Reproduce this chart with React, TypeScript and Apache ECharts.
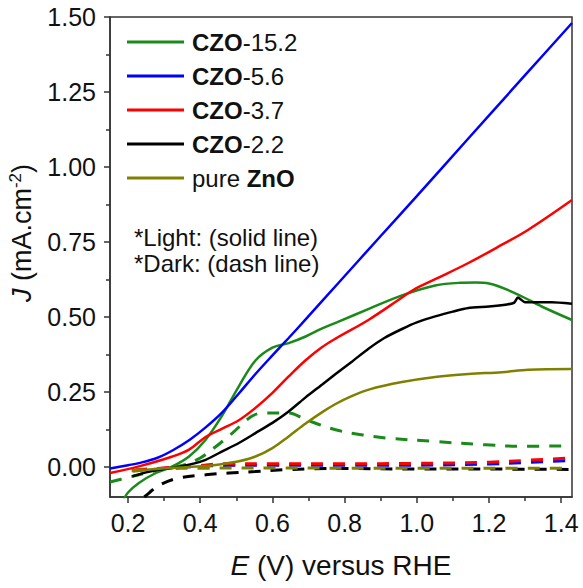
import React, { useEffect, useRef } from "react";
import * as echarts from "echarts";

type P = [number, number];

// Light (solid) curves: [E (V vs RHE), J (mA/cm2)]
const czo152Light: P[] = [[0.185,-0.115],[0.2,-0.085],[0.23,-0.053],[0.277,-0.02],[0.323,0.002],[0.369,0.035],[0.415,0.091],[0.461,0.172],[0.507,0.269],[0.553,0.355],[0.6,0.398],[0.645,0.413],[0.692,0.435],[0.738,0.462],[0.78,0.483],[0.867,0.527],[0.959,0.572],[1.051,0.605],[1.12,0.614],[1.162,0.615],[1.2,0.612],[1.282,0.574],[1.346,0.535],[1.43,0.49]];
const czo56Light: P[] = [[0.15,-0.005],[0.2,0.006],[0.23,0.013],[0.28,0.03],[0.323,0.055],[0.37,0.09],[0.415,0.132],[0.461,0.182],[0.507,0.245],[0.553,0.31],[0.6,0.372],[0.645,0.43],[0.692,0.492],[0.784,0.615],[0.9,0.77],[1.0,0.903],[1.139,1.09],[1.3,1.306],[1.43,1.48]];
const czo37Light: P[] = [[0.15,-0.02],[0.23,0.002],[0.323,0.035],[0.369,0.058],[0.415,0.1],[0.461,0.128],[0.507,0.156],[0.553,0.197],[0.6,0.247],[0.645,0.302],[0.692,0.356],[0.738,0.4],[0.775,0.428],[0.867,0.491],[0.959,0.565],[0.99,0.59],[1.051,0.626],[1.143,0.68],[1.236,0.741],[1.309,0.791],[1.43,0.89]];
const czo22Light: P[] = [[0.212,-0.031],[0.25,-0.018],[0.277,-0.011],[0.323,-0.003],[0.369,0.008],[0.415,0.024],[0.461,0.052],[0.507,0.08],[0.553,0.113],[0.6,0.147],[0.645,0.185],[0.692,0.232],[0.738,0.275],[0.775,0.31],[0.821,0.352],[0.867,0.395],[0.91,0.43],[0.959,0.46],[1.0,0.482],[1.051,0.502],[1.1,0.518],[1.143,0.53],[1.2,0.535],[1.25,0.542],[1.27,0.548],[1.28,0.565],[1.3,0.549],[1.374,0.549],[1.43,0.544]];
const znoLight: P[] = [[0.212,-0.015],[0.26,-0.008],[0.323,-0.003],[0.415,0.003],[0.461,0.01],[0.507,0.019],[0.553,0.035],[0.6,0.063],[0.645,0.102],[0.692,0.145],[0.738,0.183],[0.775,0.21],[0.821,0.237],[0.867,0.258],[0.959,0.283],[1.051,0.3],[1.143,0.31],[1.236,0.316],[1.309,0.324],[1.43,0.327]];

// Dark (dashed) curves
const czo152Dark: P[] = [[0.15,-0.05],[0.2,-0.035],[0.25,-0.02],[0.3,-0.005],[0.35,0.005],[0.4,0.03],[0.44,0.065],[0.489,0.113],[0.544,0.17],[0.58,0.18],[0.645,0.18],[0.692,0.158],[0.775,0.124],[0.85,0.107],[0.913,0.097],[1.051,0.085],[1.19,0.074],[1.291,0.069],[1.43,0.071]];
const czo56Dark: P[] = [[0.22,-0.012],[0.3,-0.004],[0.4,0.002],[0.46,0.005],[0.6,0.006],[0.8,0.006],[1.0,0.006],[1.2,0.01],[1.3,0.015],[1.43,0.022]];
const czo37Dark: P[] = [[0.22,-0.01],[0.3,-0.003],[0.4,0.005],[0.46,0.011],[0.6,0.011],[0.8,0.011],[1.0,0.012],[1.2,0.016],[1.3,0.022],[1.43,0.03]];
const czo22Dark: P[] = [[0.245,-0.1],[0.258,-0.087],[0.28,-0.065],[0.332,-0.039],[0.415,-0.026],[0.479,-0.02],[0.553,-0.015],[0.636,-0.009],[0.71,-0.006],[0.8,-0.005],[1.0,-0.007],[1.2,-0.007],[1.43,-0.008]];
const znoDark: P[] = [[0.21,-0.012],[0.3,-0.006],[0.4,-0.004],[0.6,-0.003],[0.8,-0.004],[1.0,-0.004],[1.2,-0.004],[1.43,-0.004]];

const seriesNames = ["CZO-15.2", "CZO-5.6", "CZO-3.7", "CZO-2.2", "pure ZnO"];
const seriesColors = ["#1a8a1a", "#0000ff", "#ff0000", "#000000", "#808000"];
const lightData = [czo152Light, czo56Light, czo37Light, czo22Light, znoLight];
const darkData = [czo152Dark, czo56Dark, czo37Dark, czo22Dark, znoDark];

const xMajorTicks = [0.2, 0.4, 0.6, 0.8, 1.0, 1.2, 1.4];
const xMinorTicks = [0.3, 0.5, 0.7, 0.9, 1.1, 1.3];
const yMajorTicks = [0, 0.25, 0.5, 0.75, 1.0, 1.25, 1.5];
const yMinorTicks = [0.125, 0.375, 0.625, 0.875, 1.125, 1.375];

const FONT = "'Liberation Sans', Arial, sans-serif";
const AXIS_COLOR = "#333";

export default function App() {
  const ref = useRef<HTMLDivElement>(null);
  useEffect(() => {
    document.body.style.margin = "0";
    if (!ref.current) return;
    const chart = echarts.init(ref.current, undefined, { renderer: "svg" });

    const baseX = { type: "value", min: 0.15, max: 1.43, splitLine: { show: false }, gridIndex: 0 };
    const baseY = { type: "value", min: -0.1, max: 1.5, splitLine: { show: false }, gridIndex: 0 };

    const series: any[] = [];
    lightData.forEach((d, i) => {
      series.push({
        name: seriesNames[i],
        type: "line",
        data: d,
        symbol: "none",
        smooth: i === 3 ? 0.2 : 0.35,
        lineStyle: { color: seriesColors[i], width: 2.5 },
        itemStyle: { color: seriesColors[i] },
        z: 3,
      });
    });
    darkData.forEach((d, i) => {
      series.push({
        name: seriesNames[i] + " (dark)",
        type: "line",
        data: d,
        symbol: "none",
        smooth: 0.35,
        lineStyle: { color: seriesColors[i], width: 3, type: [12, 10] },
        itemStyle: { color: seriesColors[i] },
        z: 2,
      });
    });

    chart.setOption({
      animation: false,
      grid: {
        left: 110, right: 11, top: 17, bottom: 91,
        show: true, borderColor: AXIS_COLOR, borderWidth: 1.5, backgroundColor: "transparent",
      },
      xAxis: [
        {
          ...baseX,
          position: "bottom",
          axisLine: { show: true, onZero: false, lineStyle: { color: AXIS_COLOR, width: 1.5 } },
          axisTick: { show: true, customValues: xMajorTicks, length: 6, lineStyle: { color: AXIS_COLOR, width: 1.5 } },
          axisLabel: {
            customValues: xMajorTicks, margin: 13, fontSize: 25, fontFamily: FONT, color: "#111",
            formatter: (v: number) => v.toFixed(1),
          },
        },
        {
          ...baseX,
          position: "bottom",
          axisLine: { show: false, onZero: false },
          axisTick: { show: true, customValues: xMinorTicks, length: 4, lineStyle: { color: AXIS_COLOR, width: 1.5 } },
          axisLabel: { show: false },
        },
      ],
      yAxis: [
        {
          ...baseY,
          position: "left",
          axisLine: { show: true, onZero: false, lineStyle: { color: AXIS_COLOR, width: 1.5 } },
          axisTick: { show: true, customValues: yMajorTicks, length: 6, lineStyle: { color: AXIS_COLOR, width: 1.5 } },
          axisLabel: {
            customValues: yMajorTicks, margin: 14, fontSize: 25, fontFamily: FONT, color: "#111",
            formatter: (v: number) => v.toFixed(2),
          },
        },
        {
          ...baseY,
          position: "left",
          axisLine: { show: false, onZero: false },
          axisTick: { show: true, customValues: yMinorTicks, length: 4, lineStyle: { color: AXIS_COLOR, width: 1.5 } },
          axisLabel: { show: false },
        },
      ],
      legend: {
        data: seriesNames,
        orient: "vertical",
        left: 127,
        top: 30,
        padding: 0,
        itemWidth: 57,
        itemHeight: 3,
        itemGap: 10,
        icon: "rect",
        formatter: (name: string) => {
          if (name.startsWith("CZO")) return "{b|CZO}{r|" + name.slice(3) + "}";
          return "{r|pure }{b|ZnO}";
        },
        textStyle: {
          fontSize: 24, fontFamily: FONT, color: "#111", padding: [0, 0, 0, 3],
          rich: {
            b: { fontSize: 24, fontWeight: "bold", fontFamily: FONT, color: "#111", lineHeight: 24 },
            r: { fontSize: 24, fontFamily: FONT, color: "#111", lineHeight: 24 },
          },
        },
      },
      graphic: [
        {
          type: "text", x: 134, y: 237,
          style: { text: "*Light: (solid line)", fontSize: 24, fontFamily: FONT, fill: "#111", verticalAlign: "middle" },
        },
        {
          type: "text", x: 134, y: 263,
          style: { text: "*Dark: (dash line)", fontSize: 24, fontFamily: FONT, fill: "#111", verticalAlign: "middle" },
        },
        {
          type: "text", x: 341, y: 565,
          style: {
            text: "{i|E}{n| (V) versus RHE}", align: "center", verticalAlign: "middle", fill: "#111",
            rich: {
              i: { fontSize: 28, fontStyle: "italic", fontFamily: FONT, fill: "#111" },
              n: { fontSize: 28, fontFamily: FONT, fill: "#111" },
            },
          },
        },
        {
          type: "text", x: 22, y: 233, rotation: Math.PI / 2,
          style: {
            text: "{i|J}{n| (mA.cm}{s|-2}{n|)}", align: "center", verticalAlign: "middle", fill: "#111",
            rich: {
              i: { fontSize: 27, fontStyle: "italic", fontFamily: FONT, fill: "#111", lineHeight: 30 },
              n: { fontSize: 27, fontFamily: FONT, fill: "#111", lineHeight: 30 },
              s: { fontSize: 17, fontFamily: FONT, fill: "#111", lineHeight: 30, verticalAlign: "top" },
            },
          },
        },
      ],
      series,
    });
    return () => chart.dispose();
  }, []);
  return <div ref={ref} style={{ width: 583, height: 588 }} />;
}
